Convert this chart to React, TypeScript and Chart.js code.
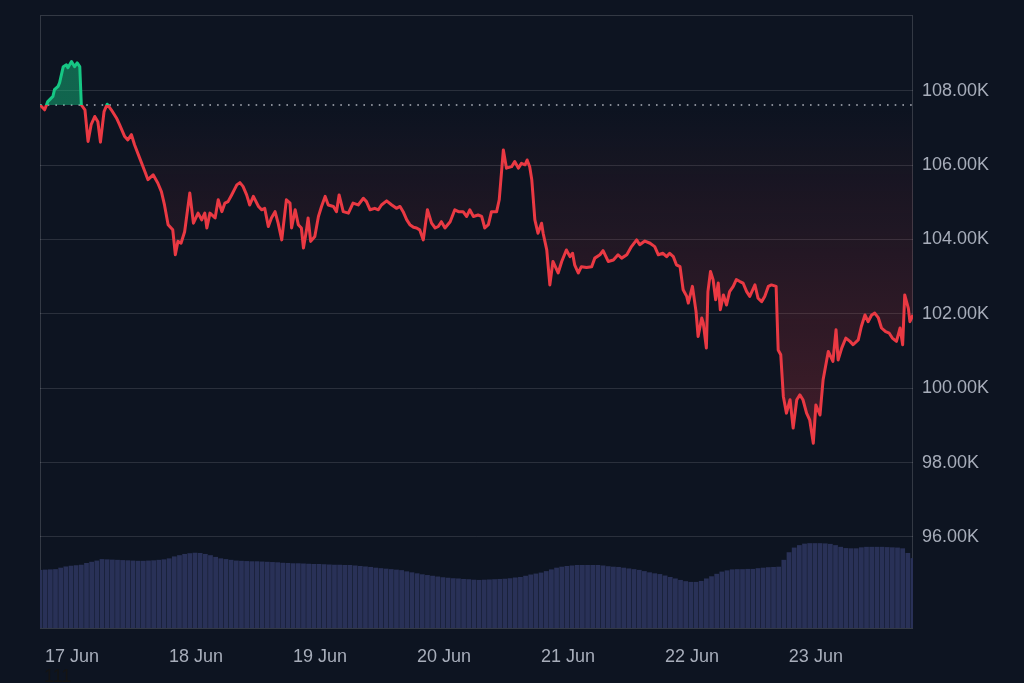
import { useEffect, useRef } from 'react';
import { Chart, registerables } from 'chart.js';

Chart.register(...registerables);

// Hours since 17 Jun 00:00 and BTC price (thousands USD)
const hours = [0,0.9,1.5,2.5,2.8,3.5,3.8,4.5,5.1,5.4,6.1,6.7,7.2,7.7,8.0,8.7,9.3,9.9,10.6,11.2,11.7,12.4,13.0,13.8,14.8,15.4,16.4,17.0,17.7,18.3,19.3,20.3,20.9,21.9,22.8,23.5,24.1,24.8,25.7,26.2,26.7,27.3,28.0,29.0,29.7,30.6,31.3,31.9,32.3,32.9,33.9,34.5,35.2,35.8,36.4,37.1,38.1,38.7,39.3,40.0,40.6,41.3,42.3,42.9,43.5,44.2,44.8,45.5,46.1,46.8,47.7,48.4,48.7,49.4,50.0,50.6,51.0,51.6,51.9,52.4,53.2,53.9,54.5,55.2,55.8,56.8,57.4,57.9,58.7,59.7,60.6,61.6,62.6,63.2,63.9,64.8,65.5,66.1,67.1,68.1,69.0,69.7,70.3,71.0,71.6,72.3,72.9,73.5,74.2,75.0,75.8,76.5,77.1,77.7,78.4,79.4,80.3,81.0,81.9,82.6,83.2,83.9,84.8,85.5,86.1,86.8,87.4,88.4,88.9,89.7,90.3,91.3,91.9,92.6,93.2,93.9,94.3,94.8,95.2,95.8,96.4,97.1,97.4,98.1,98.7,99.3,100.3,101.0,101.9,102.6,103.1,103.5,104.2,104.8,105.8,106.8,107.4,108.4,109.0,110.0,111.0,111.9,112.6,113.6,114.5,115.5,116.1,117.1,118.1,119.0,119.7,120.6,121.3,121.9,122.6,123.2,123.9,124.5,125.2,125.5,126.3,127.0,127.4,128.1,128.4,129.0,129.3,129.8,130.3,130.8,131.3,131.7,132.3,132.9,133.5,134.2,134.8,135.5,136.1,136.8,137.4,138.4,139.0,139.7,140.3,141.0,141.6,142.5,142.9,143.4,143.9,144.5,145.2,145.8,146.5,147.1,147.7,148.4,149.0,149.7,150.2,151.0,151.6,152.6,153.5,154.1,154.5,155.2,156.0,156.8,157.4,158.4,159.0,159.7,160.3,161.0,161.6,162.3,162.9,163.7,164.4,165.0,165.8,166.5,167.0,167.4,168.1,168.4,169.0];

const prices = [107.62,107.49,107.71,107.85,108.03,108.12,108.22,108.65,108.70,108.62,108.79,108.65,108.75,108.65,107.62,107.49,106.64,107.09,107.31,107.17,106.62,107.44,107.64,107.49,107.27,107.09,106.77,106.68,106.82,106.55,106.19,105.83,105.61,105.74,105.52,105.29,104.93,104.40,104.26,103.59,103.95,103.90,104.21,105.25,104.44,104.71,104.53,104.71,104.31,104.71,104.58,105.07,104.75,104.98,105.02,105.20,105.47,105.53,105.43,105.20,104.93,105.16,104.89,104.80,104.84,104.35,104.58,104.75,104.44,103.99,105.07,104.98,104.31,104.80,104.40,104.31,103.77,104.26,104.58,103.95,104.08,104.62,104.89,105.16,104.93,104.89,104.75,105.20,104.75,104.71,104.98,104.93,105.11,105.02,104.80,104.84,104.80,104.93,105.04,104.93,104.84,104.89,104.75,104.53,104.40,104.33,104.31,104.26,103.99,104.80,104.44,104.31,104.35,104.48,104.31,104.48,104.80,104.75,104.75,104.62,104.80,104.62,104.66,104.62,104.31,104.40,104.75,104.75,105.07,106.41,105.92,105.96,106.10,105.92,106.05,106.01,106.14,105.96,105.61,104.53,104.17,104.44,104.17,103.72,102.78,103.41,103.10,103.41,103.72,103.54,103.63,103.32,103.10,103.27,103.25,103.27,103.50,103.59,103.70,103.41,103.45,103.59,103.50,103.59,103.81,103.99,103.86,103.96,103.90,103.81,103.59,103.63,103.54,103.63,103.54,103.32,103.27,102.65,102.47,102.29,102.74,102.06,101.39,101.89,101.75,101.08,102.60,103.14,102.92,102.38,102.83,102.11,102.51,102.24,102.60,102.74,102.92,102.87,102.83,102.60,102.47,102.78,102.42,102.33,102.47,102.74,102.78,102.74,101.03,100.90,99.78,99.33,99.69,98.93,99.69,99.82,99.69,99.33,99.15,98.52,99.55,99.28,100.23,100.99,100.72,101.57,100.76,101.08,101.35,101.26,101.17,101.30,101.66,101.97,101.79,101.97,102.02,101.89,101.62,101.52,101.48,101.35,101.26,101.62,101.17,102.51,102.15,101.79,101.97];

// Hourly 24h volume (billions USD), hour index 0..169
const volumes = [23.7,23.8,23.9,24.0,24.6,25.1,25.4,25.6,25.8,26.5,
27.0,27.5,28.1,28.0,27.9,27.8,27.7,27.6,27.5,27.4,
27.4,27.5,27.6,27.8,28.0,28.4,29.2,29.7,30.2,30.5,
30.7,30.6,30.2,29.7,29.0,28.4,28.1,27.8,27.5,27.4,
27.3,27.2,27.2,27.1,27.0,26.9,26.8,26.6,26.5,26.4,
26.4,26.3,26.2,26.1,26.1,26.0,25.9,25.8,25.8,25.7,
25.7,25.5,25.3,25.1,24.9,24.6,24.4,24.2,24.0,23.8,
23.6,23.1,22.7,22.3,21.9,21.6,21.3,21.0,20.7,20.5,
20.3,20.2,20.0,19.9,19.7,19.6,19.7,19.8,19.9,20.0,
20.1,20.3,20.6,20.8,21.3,21.8,22.2,22.6,23.2,23.9,
24.6,25.0,25.3,25.5,25.7,25.7,25.7,25.7,25.7,25.5,
25.2,25.0,24.9,24.6,24.3,24.0,23.7,23.2,22.7,22.3,
22.0,21.4,20.8,20.2,19.6,19.1,18.8,18.8,19.2,20.2,
21.1,22.1,23.0,23.5,23.9,24.0,24.0,24.1,24.1,24.4,
24.6,24.8,24.9,25.0,27.8,30.9,32.8,33.8,34.4,34.6,
34.6,34.6,34.5,34.3,33.8,33.1,32.6,32.5,32.5,32.9,
33.1,33.1,33.1,33.1,33.0,32.9,32.8,32.5,30.6,28.5];

const dayLabels = ['17 Jun', '18 Jun', '19 Jun', '20 Jun', '21 Jun', '22 Jun', '23 Jun'];
const dayTicks = [0, 24, 48, 72, 96, 120, 144];
const priceTicks = [96, 98, 100, 102, 104, 106, 108];
const basePrice = prices[0];
const xMax = 169;
const yMin = 93.55;
const yMax = 110.04;
const volMax = 250;

const GREEN = '#16c784';
const RED = '#ea3943';
const FONT = '"Liberation Sans", Arial, Helvetica, sans-serif';

function baseFraction(chart: any) {
  const area = chart.chartArea;
  const y = chart.scales.y;
  const py = y.getPixelForValue(basePrice);
  return Math.min(1, Math.max(0, (py - area.top) / (area.bottom - area.top)));
}

function lineColor(ctx: any) {
  const chart = ctx.chart;
  const area = chart.chartArea;
  if (!area || !chart.scales.y) return RED;
  const f = baseFraction(chart);
  const g = chart.ctx.createLinearGradient(0, area.top, 0, area.bottom);
  g.addColorStop(0, GREEN);
  g.addColorStop(f, GREEN);
  g.addColorStop(f, RED);
  g.addColorStop(1, RED);
  return g;
}

function fillColor(ctx: any) {
  const chart = ctx.chart;
  const area = chart.chartArea;
  if (!area || !chart.scales.y) return 'rgba(234,57,67,0.1)';
  const f = baseFraction(chart);
  const y = chart.scales.y;
  const f2 = Math.min(1, (y.getPixelForValue(98.5) - area.top) / (area.bottom - area.top));
  const g = chart.ctx.createLinearGradient(0, area.top, 0, area.bottom);
  g.addColorStop(0, 'rgba(22,199,132,0.45)');
  g.addColorStop(f, 'rgba(22,199,132,0.45)');
  g.addColorStop(f, 'rgba(234,57,67,0)');
  g.addColorStop(f2, 'rgba(234,57,67,0.24)');
  g.addColorStop(1, 'rgba(234,57,67,0.24)');
  return g;
}

const framePlugin = {
  id: 'frame',
  beforeDatasetsDraw(chart: any) {
    const { ctx, chartArea: a } = chart;
    ctx.save();
    ctx.strokeStyle = 'rgba(255,255,255,0.16)';
    ctx.lineWidth = 1;
    ctx.strokeRect(a.left + 0.5, a.top + 0.5, a.right - a.left - 1, a.bottom - a.top);
    ctx.restore();
  },
};

export default function App() {
  const ref = useRef<HTMLCanvasElement>(null);

  useEffect(() => {
    const pricePoints = hours.map((h, i) => ({ x: h, y: prices[i] }));
    const volPoints = volumes.map((v, i) => ({ x: i, y: v }));
    const chart = new Chart(ref.current as HTMLCanvasElement, {
      type: 'line',
      data: {
        datasets: [
          {
            type: 'line',
            data: pricePoints,
            borderColor: lineColor,
            backgroundColor: fillColor,
            borderWidth: 3,
            pointRadius: 0,
            tension: 0,
            borderJoinStyle: 'round',
            fill: { value: basePrice },
            yAxisID: 'y',
            order: 0,
          } as any,
          {
            type: 'line',
            data: [{ x: 0, y: basePrice }, { x: xMax, y: basePrice }],
            borderColor: 'rgba(215,218,226,0.8)',
            borderWidth: 1.6,
            borderDash: [1.6, 6.1],
            pointRadius: 0,
            fill: false,
            yAxisID: 'y',
            order: 1,
          } as any,
          {
            type: 'bar',
            data: volPoints,
            backgroundColor: '#293157',
            borderWidth: 0,
            barPercentage: 0.92,
            categoryPercentage: 1,
            yAxisID: 'yv',
            order: 2,
          } as any,
        ],
      },
      options: {
        animation: false,
        responsive: false,
        maintainAspectRatio: false,
        layout: { padding: { left: 40, top: 15, right: 0, bottom: 0 } },
        plugins: { legend: { display: false }, tooltip: { enabled: false } },
        scales: {
          x: {
            type: 'linear',
            min: 0,
            max: xMax,
            offset: false,
            grid: { display: false, drawTicks: false },
            border: { display: false },
            afterBuildTicks: (s: any) => {
              s.ticks = dayTicks.map((v) => ({ value: v }));
            },
            afterFit: (s: any) => {
              s.height = 55;
              s.paddingLeft = 0;
              s.paddingRight = 0;
            },
            ticks: {
              autoSkip: false,
              maxRotation: 0,
              minRotation: 0,
              align: 'start',
              labelOffset: 5,
              padding: 18,
              color: '#a7adba',
              font: { family: FONT, size: 18 },
              callback: (_v: any, i: number) => dayLabels[i],
            },
          } as any,
          y: {
            type: 'linear',
            position: 'right',
            min: yMin,
            max: yMax,
            grid: { color: 'rgba(255,255,255,0.12)', drawTicks: false, lineWidth: 1 },
            border: { display: false },
            afterBuildTicks: (s: any) => {
              s.ticks = priceTicks.map((v) => ({ value: v }));
            },
            afterFit: (s: any) => {
              s.width = 111;
              s.paddingTop = 0;
              s.paddingBottom = 0;
            },
            ticks: {
              padding: 9,
              color: '#a7adba',
              font: { family: FONT, size: 18 },
              callback: (v: any) => Number(v).toFixed(2) + 'K',
            },
          } as any,
          yv: {
            type: 'linear',
            display: false,
            min: 0,
            max: volMax,
          },
        },
      },
      plugins: [framePlugin],
    });
    return () => chart.destroy();
  }, []);

  return (
    <div
      style={{
        position: 'fixed',
        left: 0,
        top: 0,
        width: 1024,
        height: 683,
        background: '#0d1421',
        overflow: 'hidden',
      }}
    >
      <canvas ref={ref} width={1024} height={683} style={{ display: 'block', width: 1024, height: 683 }} />
      <span
        style={{
          position: 'absolute',
          left: 44,
          top: 666,
          fontFamily: FONT,
          fontSize: 18,
          lineHeight: '20px',
          color: '#141414',
        }}
      >
        111
      </span>
    </div>
  );
}
